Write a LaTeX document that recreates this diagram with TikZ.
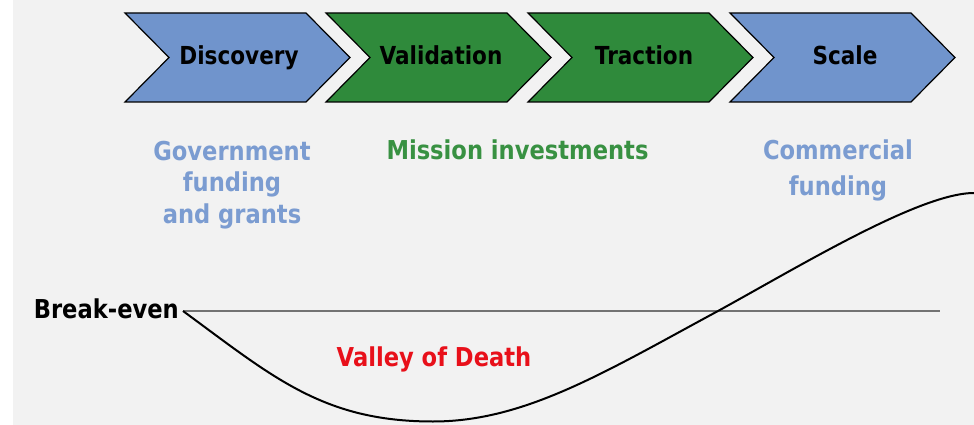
\documentclass[tikz,border=0pt]{standalone}
\usepackage{fontspec}
\setmainfont{DejaVu Sans}[FakeStretch=0.87]
\definecolor{bgc}{HTML}{F2F2F2}
\definecolor{chblue}{HTML}{7094CC}
\definecolor{chgreen}{HTML}{2F8A3B}
\definecolor{txblue}{HTML}{7B9CD1}
\definecolor{txgreen}{HTML}{389142}
\definecolor{txred}{HTML}{E8101A}
\tikzset{
  chev/.style={draw=black, line width=1.2pt, line join=miter},
  chlabel/.style={font=\fontsize{24.8}{30}\selectfont\bfseries, text=black, anchor=base, inner sep=0pt},
  fundlabel/.style={font=\fontsize{26}{30}\selectfont\bfseries, anchor=base, inner sep=0pt},
  breakline/.style={draw=black!55, line width=1.5pt},
  curveline/.style={draw=black, line width=2pt},
}
\begin{document}
\begin{tikzpicture}[x=1pt,y=-1pt]
\useasboundingbox (0,0) rectangle (974,425);
\fill[white] (0,0) rectangle (974,425);
\fill[bgc] (13,0) rectangle (974,425);
% chevrons
\foreach \L/\c in {125/chblue,326/chgreen,528/chgreen,730/chblue}{
  \filldraw[chev, fill=\c] (\L,13) -- ++(181,0) -- ++(44,44.5) -- ++(-44,44.5) -- ++(-181,0) -- ++(44,-44.5) -- cycle;
}
\node[chlabel] (disc) at (239,65) {Discovery};
\node[chlabel] (vali) at (441,65) {Validation};
\node[chlabel] (trac) at (644,65) {Traction};
\node[chlabel] (scal) at (845,65) {Scale};
% funding labels
\node[fundlabel, text=txblue] (gov1) at (232,160.5) {Government};
\node[fundlabel, text=txblue] (gov2) at (232,191.5) {funding};
\node[fundlabel, text=txblue] (gov3) at (232,223) {and grants};
\node[fundlabel, text=txgreen] (miss) at (517.5,159.5) {Mission investments};
\node[fundlabel, text=txblue] (com1) at (838,159) {Commercial};
\node[fundlabel, text=txblue] (com2) at (838,195) {funding};
\node[fundlabel, text=txred] (vod) at (434,366.5) {Valley of Death};
\node[fundlabel, text=black, anchor=base east] (be) at (179,318.5) {Break-even};
% lines
\coordinate (s) at (183,311);
\coordinate (e) at (940,311);
\coordinate (low) at (433,421.5);
\coordinate (cross) at (718,311);
\coordinate (top) at (974,193);
\draw[breakline] (s) -- (e);
\draw[curveline] (s) .. controls (273,377) and (323,421.5) .. (low)
  .. controls (525,421.5) and (605,372) .. (cross)
  .. controls (800,266) and (920,193) .. (top);
\end{tikzpicture}
\end{document}
